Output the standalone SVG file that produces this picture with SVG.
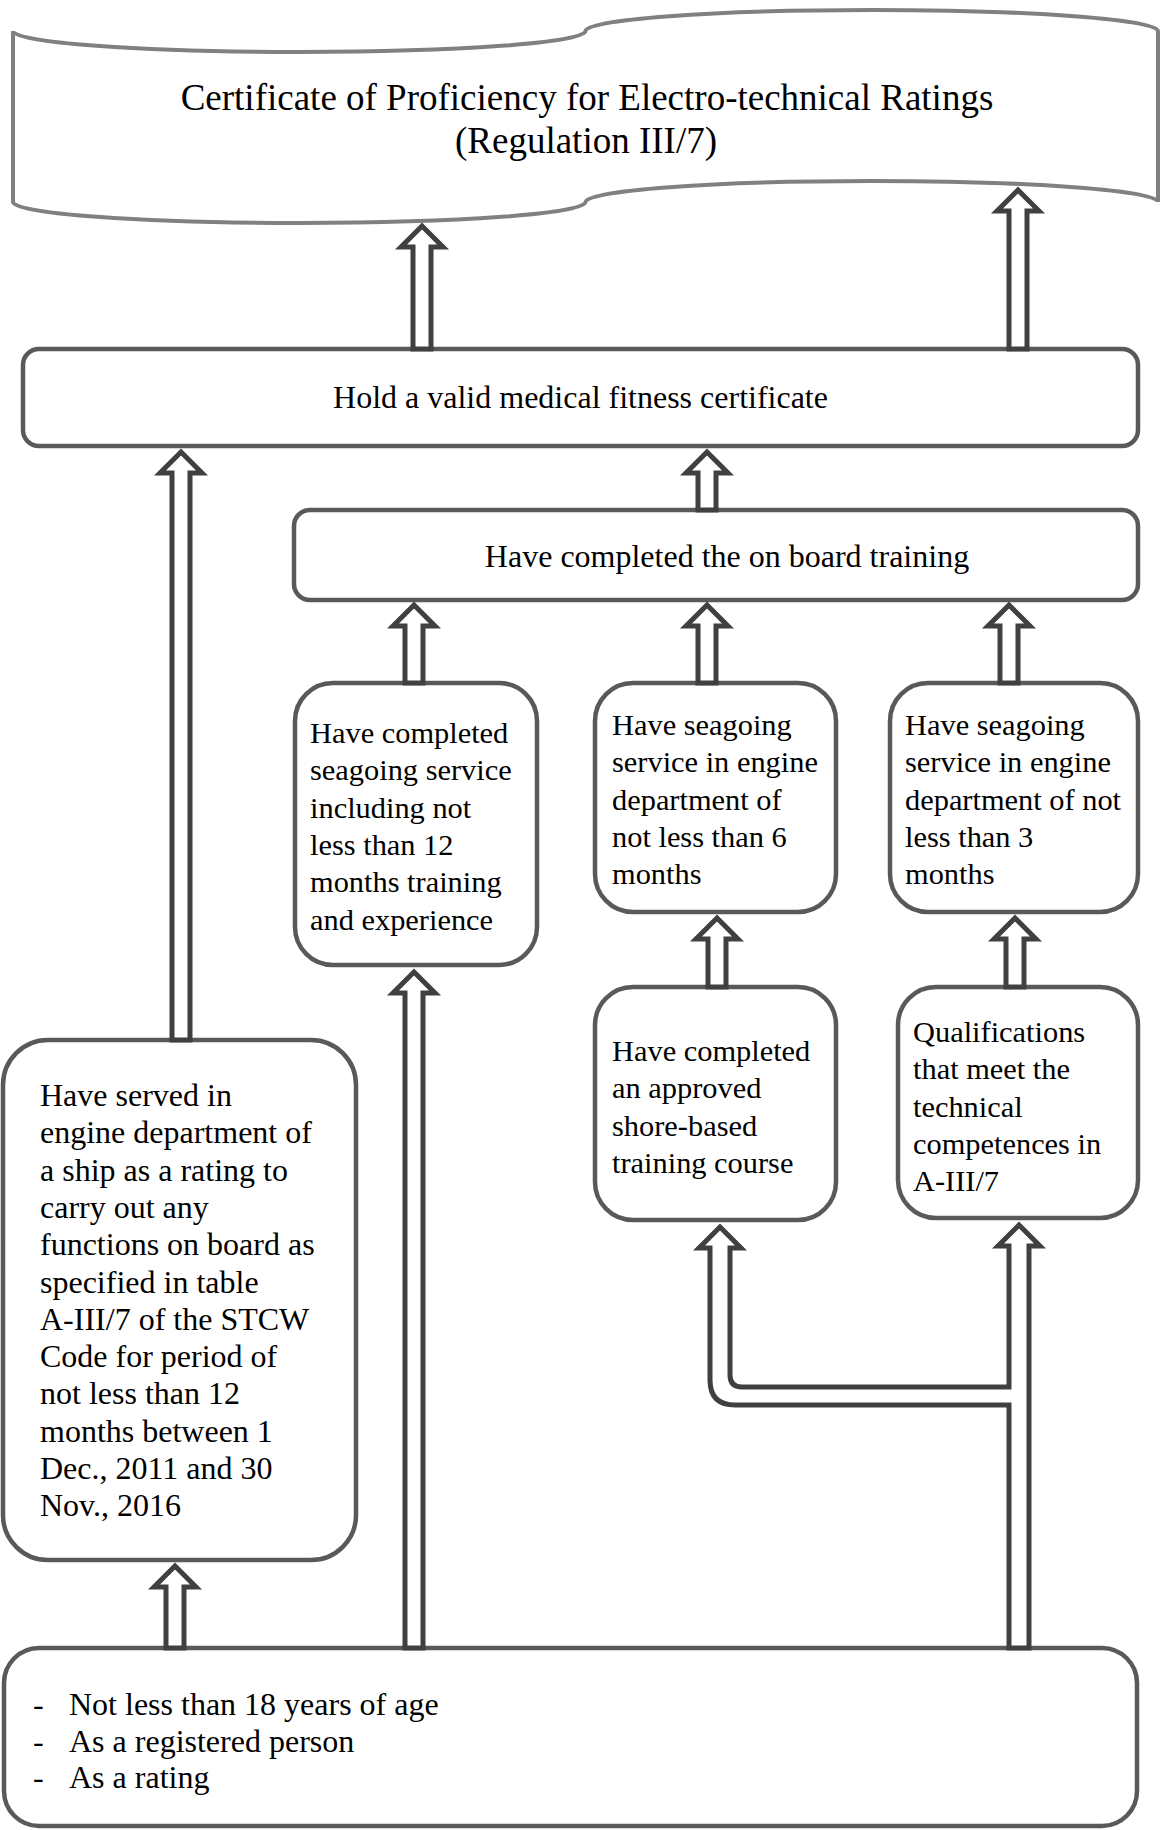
<svg xmlns="http://www.w3.org/2000/svg" width="1161" height="1830" viewBox="0 0 1161 1830">
<style>
.box{fill:#fff;stroke:#595959;stroke-width:4.5}
.banner{fill:#fff;stroke:#808080;stroke-width:4}
.arr{fill:#fff;stroke:#404040;stroke-width:5;stroke-linejoin:miter}
.t{font-family:"Liberation Serif","Times New Roman",serif;fill:#000}
.s30{font-size:30.4px}
.s32{font-size:32px}
.s37{font-size:37px}
</style>
<rect width="1161" height="1830" fill="#fff"/>
<g id="banner">
<path class="banner" d="M13 31 A286 21 0 0 0 585.5 31 A286 21 0 0 1 1158 31 L1158 202 A286 21 0 0 0 585.5 202 A286 21 0 0 1 13 202 Z"/>
<text class="t s37" text-anchor="middle"><tspan x="587" y="110">Certificate of Proficiency for Electro-technical Ratings</tspan><tspan x="586" y="153">(Regulation III/7)</tspan></text>
</g>
<g id="medical">
<rect class="box" x="23" y="349" width="1115" height="97" rx="16"/>
<text class="t s32" x="580.5" y="408" text-anchor="middle">Hold a valid medical fitness certificate</text>
</g>
<g id="onboard">
<rect class="box" x="294" y="510" width="844" height="90" rx="16"/>
<text class="t s32" x="727" y="567" text-anchor="middle">Have completed the on board training</text>
</g>
<g id="nodeA">
<rect class="box" x="295" y="683" width="242" height="282" rx="38"/>
<text class="t s30"><tspan x="310" y="743">Have completed</tspan><tspan x="310" dy="37.3">seagoing service</tspan><tspan x="310" dy="37.3">including not</tspan><tspan x="310" dy="37.3">less than 12</tspan><tspan x="310" dy="37.3">months training</tspan><tspan x="310" dy="37.3">and experience</tspan></text>
</g>
<g id="nodeB">
<rect class="box" x="595" y="683" width="241" height="229" rx="38"/>
<text class="t s30"><tspan x="612" y="735">Have seagoing</tspan><tspan x="612" dy="37.3">service in engine</tspan><tspan x="612" dy="37.3">department of</tspan><tspan x="612" dy="37.3">not less than 6</tspan><tspan x="612" dy="37.3">months</tspan></text>
</g>
<g id="nodeC">
<rect class="box" x="890" y="683" width="248" height="229" rx="38"/>
<text class="t s30"><tspan x="905" y="735">Have seagoing</tspan><tspan x="905" dy="37.3">service in engine</tspan><tspan x="905" dy="37.3">department of not</tspan><tspan x="905" dy="37.3">less than 3</tspan><tspan x="905" dy="37.3">months</tspan></text>
</g>
<g id="nodeD">
<rect class="box" x="595" y="987" width="241" height="233" rx="38"/>
<text class="t s30"><tspan x="612" y="1061">Have completed</tspan><tspan x="612" dy="37.3">an approved</tspan><tspan x="612" dy="37.3">shore-based</tspan><tspan x="612" dy="37.3">training course</tspan></text>
</g>
<g id="nodeE">
<rect class="box" x="898" y="987" width="240" height="231" rx="38"/>
<text class="t s30"><tspan x="913" y="1042">Qualifications</tspan><tspan x="913" dy="37.3">that meet the</tspan><tspan x="913" dy="37.3">technical</tspan><tspan x="913" dy="37.3">competences in</tspan><tspan x="913" dy="37.3">A-III/7</tspan></text>
</g>
<g id="nodeF">
<rect class="box" x="3" y="1040" width="353" height="520" rx="45"/>
<text class="t s32"><tspan x="40" y="1106">Have served in</tspan><tspan x="40" dy="37.3">engine department of</tspan><tspan x="40" dy="37.3">a ship as a rating to</tspan><tspan x="40" dy="37.3">carry out any</tspan><tspan x="40" dy="37.3">functions on board as</tspan><tspan x="40" dy="37.3">specified in table</tspan><tspan x="40" dy="37.3">A-III/7 of the STCW</tspan><tspan x="40" dy="37.3">Code for period of</tspan><tspan x="40" dy="37.3">not less than 12</tspan><tspan x="40" dy="37.3">months between 1</tspan><tspan x="40" dy="37.3">Dec., 2011 and 30</tspan><tspan x="40" dy="37.3">Nov., 2016</tspan></text>
</g>
<g id="nodeG">
<rect class="box" x="4" y="1648" width="1133" height="178" rx="35"/>
<text class="t s32"><tspan x="33" y="1715">-</tspan><tspan x="33" dy="36.5">-</tspan><tspan x="33" dy="36.5">-</tspan></text>
<text class="t s32"><tspan x="69" y="1715">Not less than 18 years of age</tspan><tspan x="69" dy="36.5">As a registered person</tspan><tspan x="69" dy="36.5">As a rating</tspan></text>
</g>
<g id="connectors">
<path class="arr" d="M422 226 L443 247 L431 247 L431 349 L413 349 L413 247 L401 247 Z"/>
<path class="arr" d="M1018 190 L1039 211 L1027 211 L1027 349 L1009 349 L1009 211 L997 211 Z"/>
<path class="arr" d="M181 452 L202 473 L190 473 L190 1040 L172 1040 L172 473 L160 473 Z"/>
<path class="arr" d="M707 452 L728 473 L716 473 L716 510 L698 510 L698 473 L686 473 Z"/>
<path class="arr" d="M414 605 L435 626 L423 626 L423 683 L405 683 L405 626 L393 626 Z"/>
<path class="arr" d="M707 605 L728 626 L716 626 L716 683 L698 683 L698 626 L686 626 Z"/>
<path class="arr" d="M1009 605 L1030 626 L1018 626 L1018 683 L1000 683 L1000 626 L988 626 Z"/>
<path class="arr" d="M717 918 L738 939 L726 939 L726 987 L708 987 L708 939 L696 939 Z"/>
<path class="arr" d="M1015 918 L1036 939 L1024 939 L1024 987 L1006 987 L1006 939 L994 939 Z"/>
<path class="arr" d="M175 1566 L196 1587 L184 1587 L184 1648 L166 1648 L166 1587 L154 1587 Z"/>
<path class="arr" d="M414 972 L435 993 L423 993 L423 1648 L405 1648 L405 993 L393 993 Z"/>
<path class="arr" d="M1019 1225 L1040 1246 L1029 1246 L1029 1648 L1009 1648 L1009 1405 L735 1405 Q710 1405 710 1380 L710 1248 L699 1248 L720 1227 L741 1248 L730 1248 L730 1375 Q730 1387 742 1387 L1009 1387 L1009 1246 L998 1246 Z"/>
</g>
</svg>
